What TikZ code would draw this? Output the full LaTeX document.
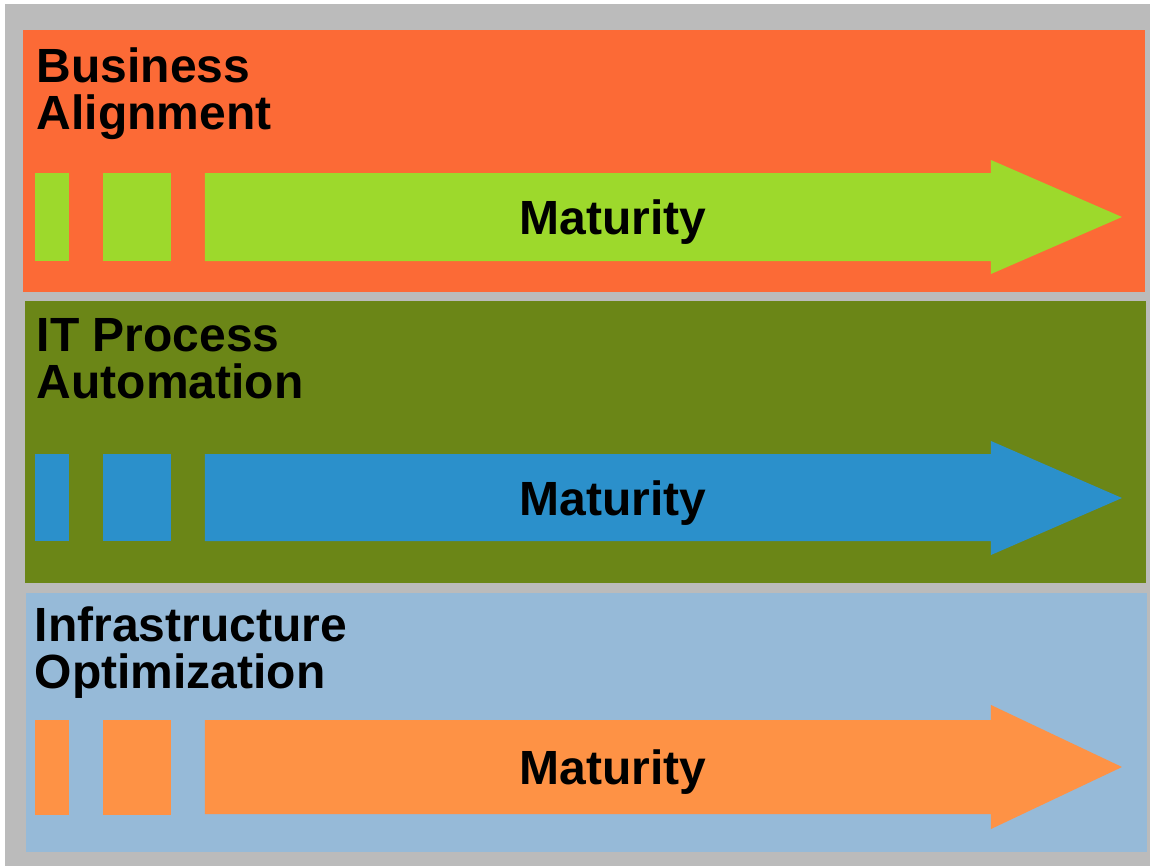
\documentclass[tikz,border=0pt]{standalone}
\usepackage{fontspec}
\setmainfont{Liberation Sans}
\usetikzlibrary{positioning}
\definecolor{frame}{HTML}{BBBBBB}
\definecolor{bizorange}{HTML}{FC6A36}
\definecolor{procolive}{HTML}{6B8617}
\definecolor{infrablue}{HTML}{96BAD8}
\definecolor{arrgreen}{HTML}{9DD92C}
\definecolor{arrblue}{HTML}{2B90CB}
\definecolor{arrorange}{HTML}{FE9245}
\tikzstyle{title} = [anchor=base west, align=left, inner sep=0pt, font=\bfseries\fontsize{13.65}{13.1}\selectfont]
\tikzstyle{mat} = [anchor=base, inner sep=0pt, font=\bfseries\fontsize{13.65}{13.1}\selectfont]
\tikzstyle{coord} = [coordinate]

\begin{document}
\begin{tikzpicture}[x=0.01cm,y=-0.01cm]
    \useasboundingbox (0,0) rectangle (1150,866);
    \fill[white] (0,0) rectangle (1150,866);
    \fill[frame] (5,4) rectangle (1150,866);

    % panels
    \fill[bizorange] (23,30) rectangle (1145,292);
    \fill[procolive] (25,301) rectangle (1146,583);
    \fill[infrablue] (26,593) rectangle (1147,852);

    % titles (base = last line)
    \node[title] (biz) at (36,129) {Business\\Alignment};
    \node[title] (proc) at (36,398) {IT Process\\Automation};
    \node[title] (infra) at (34,688) {Infrastructure\\Optimization};

    % row 1
    \fill[arrgreen] (35,173) rectangle (69,261);
    \fill[arrgreen] (103,173) rectangle (171,261);
    \fill[arrgreen] (205,173) -- (991,173) -- (991,160) -- (1122,217)
        -- (991,274) -- (991,261) -- (205,261) -- cycle;
    \node[mat] (mat1) at (613,234) {Maturity};

    % row 2
    \fill[arrblue] (35,454) rectangle (69,541);
    \fill[arrblue] (103,454) rectangle (171,541);
    \fill[arrblue] (205,454) -- (991,454) -- (991,441) -- (1122,498)
        -- (991,555) -- (991,541) -- (205,541) -- cycle;
    \node[mat] (mat2) at (613,515) {Maturity};

    % row 3
    \fill[arrorange] (35,720) rectangle (69,815);
    \fill[arrorange] (103,720) rectangle (171,815);
    \fill[arrorange] (205,720) -- (991,720) -- (991,705) -- (1122,767)
        -- (991,829) -- (991,814) -- (205,814) -- cycle;
    \node[mat] (mat3) at (613,784) {Maturity};
\end{tikzpicture}
\end{document}
